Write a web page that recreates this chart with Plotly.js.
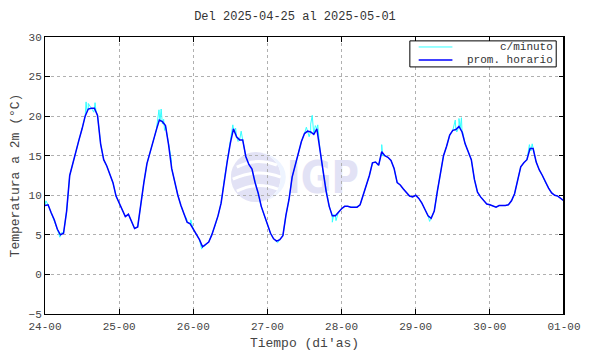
<!DOCTYPE html>
<html>
<head>
<meta charset="utf-8">
<script src="https://cdn.plot.ly/plotly-3.0.1.min.js"></script>
<style>html,body{margin:0;padding:0;background:#fff;}#chart{width:590px;height:354px;}</style>
</head>
<body>
<div id="chart"></div>
<script>
// Hours since 2025-04-24 00:00
var tickHours = [0, 24, 48, 72, 96, 120, 144, 168];
var tickLabels = ["24-00", "25-00", "26-00", "27-00", "28-00", "29-00", "30-00", "01-00"];
var seriesNames = ["c/minuto", "prom. horario"];

// Hourly mean temperature (°C), one value per hour from hour 0 to hour 168
var hourlyTemp = [
  8.7, 8.8, 7.8, 6.9, 5.7, 5.0, 5.2, 8.0, 12.5, 14.1, 15.4, 17.0, 18.4, 20.0, 20.9, 21.0, 21.0, 20.1, 16.5, 14.5, 13.7, 12.5, 11.6, 9.9,
  9.1, 8.2, 7.3, 7.6, 6.6, 5.8, 6.0, 9.0, 11.6, 14.0, 15.5, 16.7, 18.2, 19.5, 19.3, 18.8, 16.4, 13.4, 11.6, 10.0, 8.7, 7.6, 6.6, 6.4,
  5.7, 5.0, 4.4, 3.5, 3.8, 4.1, 5.0, 6.1, 7.4, 9.0, 11.9, 14.3, 16.6, 18.4, 17.4, 17.0, 17.0, 14.9, 13.9, 13.3, 11.6, 10.3, 8.6, 7.4,
  6.3, 5.2, 4.5, 4.2, 4.4, 4.9, 7.5, 9.5, 12.3, 13.9, 15.2, 16.8, 17.8, 18.1, 18.0, 17.7, 18.4, 15.8, 13.0, 10.5, 8.6, 7.4, 7.4, 7.9,
  8.3, 8.6, 8.6, 8.5, 8.5, 8.5, 8.8, 10.0, 11.0, 12.5, 14.1, 14.2, 13.8, 15.5, 15.0, 14.8, 14.4, 13.4, 11.6, 11.3, 10.8, 10.4, 9.9, 9.8,
  10.0, 9.6, 9.0, 8.2, 7.4, 7.1, 8.0, 10.5, 12.8, 15.0, 16.2, 17.6, 18.2, 18.3, 18.7, 18.0, 16.5, 15.6, 14.5, 12.0, 10.4, 9.8, 9.3, 8.9,
  8.8, 8.6, 8.5, 8.7, 8.7, 8.7, 8.8, 9.3, 10.2, 12.0, 13.6, 14.1, 14.5, 15.9, 15.9, 14.2, 13.2, 12.5, 11.6, 10.9, 10.3, 10.0, 9.9, 9.6,
  9.3
];

// Per-minute readings that stand out from the hourly curve (hour, °C)
var minuteHours = [0.3, 4.8, 5.4, 13.3, 13.6, 14.0, 15.8, 16.2, 16.5,
  36.9, 37.2, 37.6, 38.0, 38.4, 38.7, 40.9, 45.9, 47.2,
  50.7, 51.8, 60.8, 61.3, 61.7, 62.5, 63.5, 63.8,
  75.3, 84.6, 85.5, 86.0, 86.5, 86.8, 87.5, 88.3, 93.0, 93.5, 94.2,
  108.6, 109.0, 109.3, 124.5,
  132.8, 133.3, 134.0, 134.4, 134.8, 135.2,
  156.8, 157.3, 157.7, 158.2];
var minuteTemps = [9.3, 4.7, 5.3, 21.8, 20.6, 21.6, 20.5, 21.7, 20.6,
  20.8, 19.3, 20.9, 19.0, 19.6, 18.2, 14.5, 7.0, 6.9,
  3.2, 3.6, 18.9, 17.9, 18.5, 16.8, 18.1, 17.2,
  4.0, 18.6, 17.4, 19.0, 20.1, 17.8, 18.8, 18.9, 6.6, 7.6, 6.8,
  14.8, 16.4, 15.0, 6.7,
  19.5, 18.0, 19.7, 18.5, 19.8, 18.0,
  16.4, 15.6, 16.5, 15.7];

var colors = ['#33ffff', '#0000ff'];

var hourlyX = hourlyTemp.map(function(v, i){ return i; });
// merge hourly and minute readings into one time-ordered series for c/minuto
var pts = hourlyX.map(function(h, i){ return [h, hourlyTemp[i]]; })
  .concat(minuteHours.map(function(h, i){ return [h, minuteTemps[i]]; }))
  .sort(function(a, b){ return a[0] - b[0]; });

var font = "'Liberation Mono', 'DejaVu Sans Mono', monospace";

var traces = [
  {x: pts.map(function(p){return p[0];}), y: pts.map(function(p){return p[1];}),
   type: 'scatter', mode: 'lines', name: seriesNames[0], line: {color: colors[0], width: 1}},
  {x: hourlyX, y: hourlyTemp, type: 'scatter', mode: 'lines', name: seriesNames[1],
   line: {color: colors[1], width: 1.5}}
];

var svg = '<svg xmlns="http://www.w3.org/2000/svg" width="130" height="52" viewBox="0 0 130 52">' +
  '<circle cx="25" cy="26" r="25" fill="#e2e2f5"/>' +
  '<path d="M25 1 A25 25 0 0 1 25 51 A30 25 0 0 0 25 1 Z" fill="#eef4ff"/>' +
  '<path d="M6 16 Q25 6 46 14" stroke="#fff" stroke-width="3" fill="none"/>' +
  '<path d="M2 28 Q25 17 50 26" stroke="#fff" stroke-width="3" fill="none"/>' +
  '<path d="M6 40 Q25 30 47 38" stroke="#fff" stroke-width="3" fill="none"/>' +
  '<text x="56" y="42" font-family="DejaVu Sans" font-weight="bold" font-size="44" textLength="72" lengthAdjust="spacingAndGlyphs" fill="#e2e2f5">IGP</text></svg>';

// legend geometry in paper fractions
var lgX0 = 0.703, lgX1 = 0.985, lgY0 = 0.892, lgY1 = 0.986;
var lgRows = [0.964, 0.917];

var shapes = [
  {type: 'rect', xref: 'paper', yref: 'paper', x0: lgX0, x1: lgX1, y0: lgY0, y1: lgY1,
   line: {color: '#000', width: 1}, fillcolor: '#fff', layer: 'above'},
  {type: 'line', xref: 'paper', yref: 'paper', x0: 1, x1: 1, y0: 0, y1: 1, line: {color: '#000', width: 2}}
];
var annotations = [];
seriesNames.forEach(function(n, i){
  shapes.push({type: 'line', xref: 'paper', yref: 'paper', x0: 0.72, x1: 0.785, y0: lgRows[i], y1: lgRows[i],
               line: {color: colors[i], width: i === 0 ? 1 : 1.5}, layer: 'above'});
  annotations.push({xref: 'paper', yref: 'paper', x: 0.982, y: lgRows[i], xanchor: 'right', yanchor: 'middle',
                    text: n, showarrow: false, font: {family: font, size: 11, color: '#333'}});
});

var layout = {
  width: 590, height: 354,
  margin: {l: 45, r: 26, t: 37, b: 40},
  paper_bgcolor: '#fff', plot_bgcolor: '#fff',
  font: {family: font, size: 11, color: '#444'},
  title: {text: 'Del 2025-04-25 al 2025-05-01', font: {family: font, size: 12, color: '#333'}, x: 0.5, xanchor: 'center', y: 0.955, yanchor: 'middle'},
  showlegend: false,
  shapes: shapes,
  annotations: annotations,
  xaxis: {range: [0, 168], tickvals: tickHours, ticktext: tickLabels, ticks: 'inside', ticklen: 5, tickcolor: '#000',
          showline: true, linecolor: '#000', linewidth: 1, mirror: 'ticks', showgrid: true, gridcolor: '#b0b0b0', griddash: 'dot',
          zeroline: false, tickfont: {family: font, size: 11, color: '#444'}, ticklabelstandoff: 2,
          title: {text: "Tiempo (di'as)", font: {family: font, size: 13, color: '#444'}, standoff: 5}},
  yaxis: {range: [-5, 30], dtick: 5, tick0: 0, ticks: 'inside', ticklen: 5, tickcolor: '#000',
          showline: true, linecolor: '#000', linewidth: 1, mirror: 'ticks', showgrid: true, gridcolor: '#b0b0b0', griddash: 'dot',
          zeroline: false, tickfont: {family: font, size: 11, color: '#444'},
          title: {text: 'Temperatura a 2m (°C)', font: {family: font, size: 13, color: '#444'}, standoff: 6}},
  images: [{source: 'data:image/svg+xml;charset=utf-8,' + encodeURIComponent(svg), xref: 'paper', yref: 'paper',
            x: 0.358, y: 0.588, sizex: 0.2505, sizey: 0.1877, xanchor: 'left', yanchor: 'top', layer: 'below', sizing: 'stretch', opacity: 1}]
};

Plotly.newPlot('chart', traces, layout, {displayModeBar: false, staticPlot: true});
</script>
</body>
</html>
